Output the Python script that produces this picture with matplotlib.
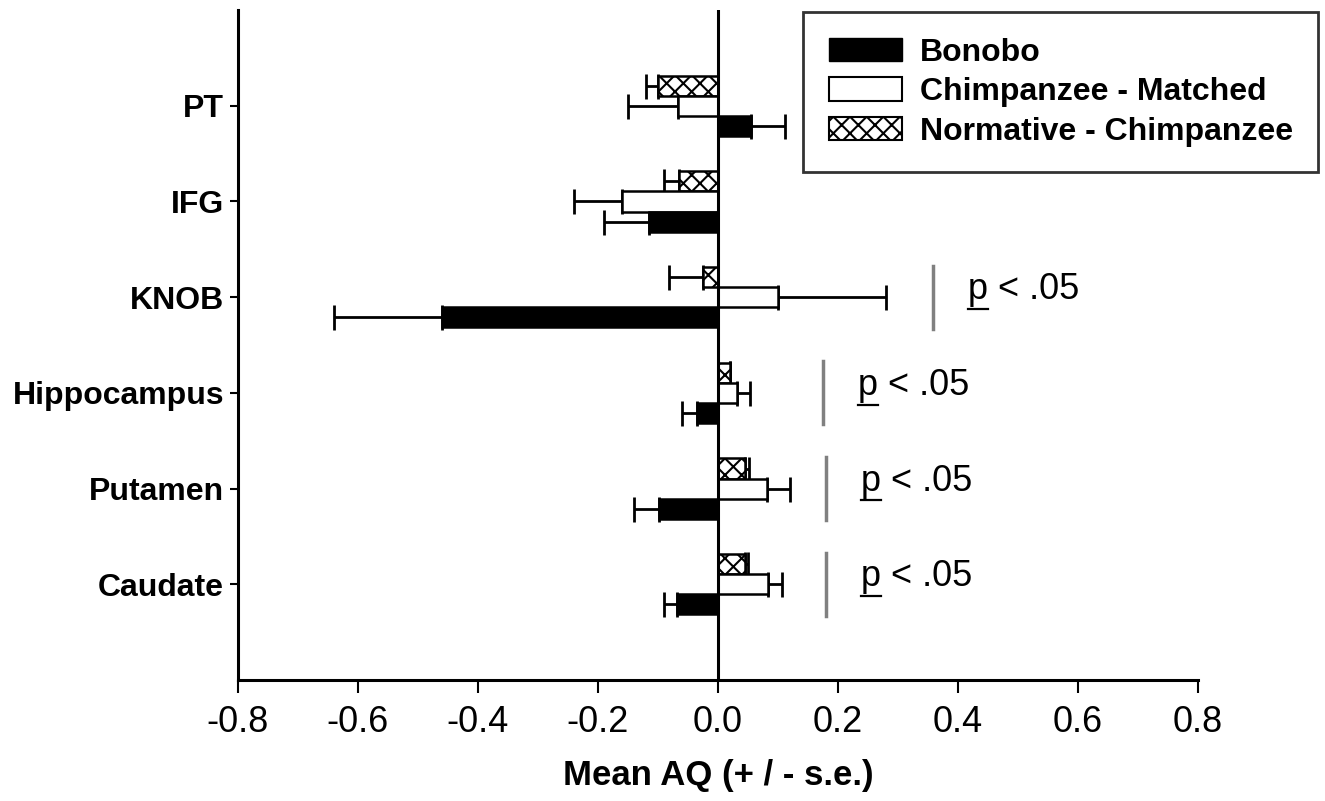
import numpy as np
import matplotlib
matplotlib.use("Agg")
import matplotlib.pyplot as plt
import matplotlib.transforms as mtransforms
from matplotlib.patches import Patch

plt.rcParams["font.family"] = ["Liberation Sans", "DejaVu Sans"]
plt.rcParams["hatch.linewidth"] = 1.5

# categories, top to bottom
regions = ["PT", "IFG", "KNOB", "Hippocampus", "Putamen", "Caudate"]

bonobo = [0.055, -0.115, -0.46, -0.035, -0.098, -0.068]
bonobo_se = [0.057, 0.075, 0.18, 0.025, 0.042, 0.022]

chimp_matched = [-0.067, -0.16, 0.10, 0.032, 0.082, 0.084]
chimp_matched_se = [0.083, 0.08, 0.18, 0.021, 0.038, 0.023]

normative = [-0.10, -0.065, -0.025, 0.02, 0.045, 0.045]
normative_se = [0.02, 0.025, 0.057, 0.0, 0.007, 0.005]

x_ticks = [-0.8, -0.6, -0.4, -0.2, 0.0, 0.2, 0.4, 0.6, 0.8]
x_tick_labels = ["-0.8", "-0.6", "-0.4", "-0.2", "0.0", "0.2", "0.4", "0.6", "0.8"]

# significance marks
sig_regions = ["KNOB", "Hippocampus", "Putamen", "Caudate"]
sig_line_x = [0.358, 0.175, 0.18, 0.18]
sig_label = "p < .05"

y = np.arange(len(regions))[::-1].astype(float)
h = 0.21


def one_sided(vals, se):
    vals = np.array(vals)
    se = np.array(se)
    lower = np.where(vals < 0, se, 0)
    upper = np.where(vals >= 0, se, 0)
    return [lower, upper]


fig = plt.figure(figsize=(13.25, 8.01), dpi=100)
ax = fig.add_axes([0.1796, 0.151, 0.7246, 0.8365])

series = [
    (normative, normative_se, y + h, dict(color="white", hatch="xx")),
    (chimp_matched, chimp_matched_se, y, dict(color="white")),
    (bonobo, bonobo_se, y - h, dict(color="black")),
]
for vals, se, pos, style in series:
    ax.errorbar(vals, pos, xerr=one_sided(vals, se), fmt="none", ecolor="black",
                elinewidth=2, capsize=9, capthick=2, zorder=1)
    ax.barh(pos, vals, height=h, edgecolor="black", linewidth=1.8, zorder=2, **style)

ax.axvline(0, color="black", linewidth=2.2, zorder=3)

fs = 26
p_width = 0.556 * fs  # width of "p" in points
for name, lx in zip(sig_regions, sig_line_x):
    yc = y[regions.index(name)]
    ax.plot([lx, lx], [yc - 0.33, yc + 0.33], color="#808080", linewidth=2.5)
    tx, ty = lx + 0.058, yc - 0.02
    ax.text(tx, ty, sig_label, fontsize=fs, va="baseline", ha="left")
    # underline the "p", offsets in points from the text anchor
    tr = (mtransforms.Affine2D().scale(fig.dpi / 72.0)
          + mtransforms.ScaledTranslation(tx, ty, ax.transData))
    ax.add_line(plt.Line2D([0, p_width], [-7, -7], color="black",
                           linewidth=1.6, transform=tr))

ax.set_xlim(-0.8, 0.8)
ax.set_ylim(-1, 6)
ax.set_xticks(x_ticks)
ax.set_xticklabels(x_tick_labels, fontsize=26)
ax.set_yticks(y)
ax.set_yticklabels(regions, fontsize=23, fontweight="bold")
ax.tick_params(axis="x", length=9, width=1.5, pad=9)
ax.tick_params(axis="y", length=6, width=1.5, pad=4)
ax.set_xlabel("Mean AQ (+ / - s.e.)", fontsize=25, fontweight="bold", labelpad=14)

for side in ["top", "right"]:
    ax.spines[side].set_visible(False)
for side in ["left", "bottom"]:
    ax.spines[side].set_linewidth(2.2)

handles = [
    Patch(facecolor="black", edgecolor="black", label="Bonobo"),
    Patch(facecolor="white", edgecolor="black", linewidth=1.5, label="Chimpanzee - Matched"),
    Patch(facecolor="white", edgecolor="black", hatch="xx", linewidth=1.5, label="Normative - Chimpanzee"),
]
leg = fig.legend(handles=handles, loc="upper right", bbox_to_anchor=(0.995, 0.985),
                 borderaxespad=0, frameon=True, fancybox=False, handlelength=2.3,
                 handleheight=0.75, handletextpad=0.55, labelspacing=0.3,
                 borderpad=0.8, prop={"weight": "bold", "size": 23})
leg.get_frame().set_edgecolor("black")
leg.get_frame().set_linewidth(2)

fig.savefig("out.png", dpi=100)
